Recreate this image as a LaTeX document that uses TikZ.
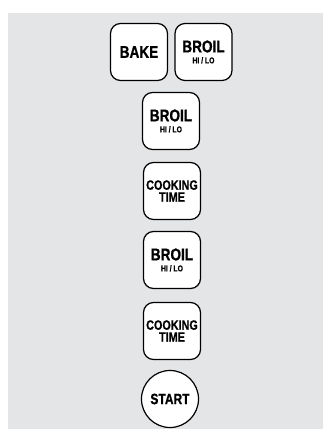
\documentclass[tikz,border=0pt]{standalone}
\usepackage{fontspec}
\setmainfont{Liberation Sans}[FakeStretch=0.8, BoldFeatures={FakeBold=0.8}]
\definecolor{bggray}{RGB}{228,229,230}
\tikzset{
  btn/.style={draw=black, fill=white, line width=1.2pt, rounded corners=10pt,
    minimum width=57pt, minimum height=57pt, inner sep=0pt, align=center,
    font=\bfseries},
  rbtn/.style={draw=black, fill=white, line width=1.2pt, circle,
    minimum size=57pt, inner sep=0pt, align=center, font=\bfseries},
}
\newcommand{\bigtxt}{\fontsize{17}{17}\selectfont}
\newcommand{\cooktxt}{\fontsize{13.5}{12.5}\selectfont}
\newcommand{\smalltxt}{\fontsize{8.5}{8}\selectfont}
\begin{document}
\begin{tikzpicture}[x=1pt,y=-1pt]
\useasboundingbox (0,0) rectangle (323,429);
\fill[bggray] (8,13) rectangle (323,429);
\node[btn] (bake) at (139,52) {\bigtxt BAKE};
\node[btn] (broila) at (203.5,52) {\bigtxt BROIL\\[-1pt]\smalltxt HI / LO};
\node[btn] (broilb) at (171,121) {\bigtxt BROIL\\[-1pt]\smalltxt HI / LO};
\node[btn] (cooka) at (172,191) {\cooktxt COOKING\\\cooktxt TIME};
\node[btn] (broilc) at (172,260) {\bigtxt BROIL\\[-1pt]\smalltxt HI / LO};
\node[btn] (cookb) at (172,331) {\cooktxt COOKING\\\cooktxt TIME};
\node[rbtn] (start) at (170,399) {\fontsize{15}{15}\selectfont START};
\end{tikzpicture}
\end{document}
